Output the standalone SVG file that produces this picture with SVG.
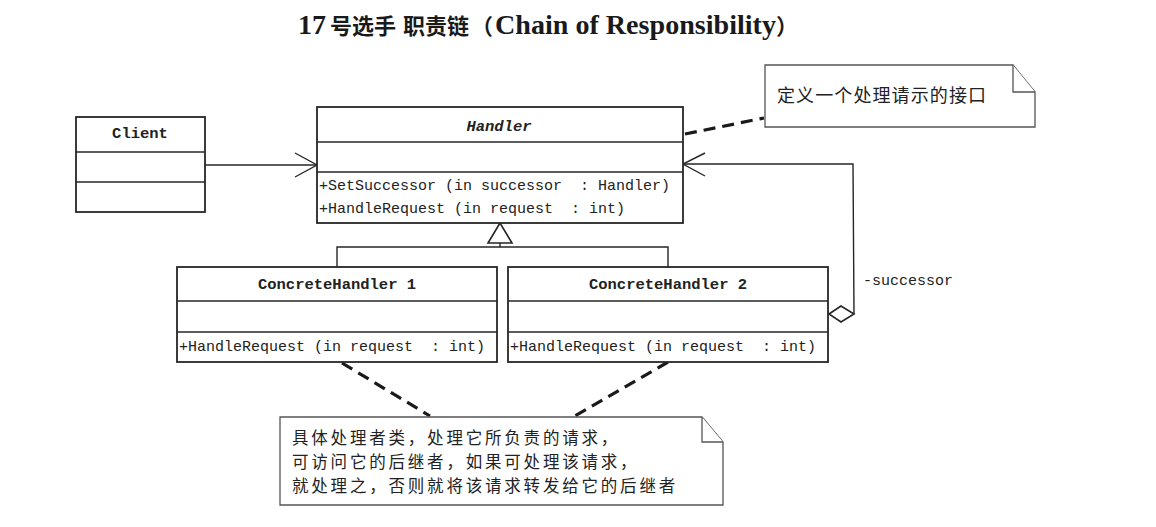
<svg xmlns="http://www.w3.org/2000/svg" width="1156" height="527" viewBox="0 0 1156 527">
  <style>
    .box { fill: #ffffff; stroke: #262626; stroke-width: 1.8; }
    .div { stroke: #262626; stroke-width: 1.6; fill: none; }
    .line { stroke: #262626; stroke-width: 1.4; fill: none; }
    .dash { stroke: #1a1a1a; stroke-width: 3.2; stroke-dasharray: 12 7; fill: none; }
    .note { fill: #ffffff; stroke: #555555; stroke-width: 1.3; }
    .mono { font-family: "Liberation Mono", "DejaVu Sans Mono", monospace; font-size: 15px; fill: #222222; white-space: pre; }
    .cls { font-family: "Liberation Mono", "DejaVu Sans Mono", monospace; font-size: 15.5px; fill: #222222; font-weight: bold; text-anchor: middle; }
    .cn { font-family: "Noto Sans CJK SC", "Noto Sans", sans-serif; font-size: 16.5px; fill: #222222; letter-spacing: 2.8px; }
    .cn1 { font-family: "Noto Sans CJK SC", "Noto Sans", sans-serif; font-size: 18px; fill: #222222; letter-spacing: 1.1px; }
    .title-cn { font-family: "Noto Sans CJK SC", sans-serif; font-size: 22px; font-weight: bold; fill: #1a1a1a; }
    .title-en { font-family: "Liberation Serif", "Noto Sans CJK SC", serif; font-size: 28px; font-weight: bold; fill: #1a1a1a; }
  </style>

  <rect x="0" y="0" width="1156" height="527" fill="#ffffff"/>

  <!-- title -->
  <g id="title">
    <text x="298" y="34" class="title-en">17</text>
    <text x="330" y="34" class="title-cn">号选手</text>
    <text x="403" y="34" class="title-cn">职责链</text>
    <text x="471" y="34" class="title-cn">（</text>
    <text x="495" y="34" class="title-en" textLength="281" lengthAdjust="spacingAndGlyphs">Chain of Responsibility</text>
    <text x="776" y="34" class="title-cn">）</text>
  </g>

  <!-- connectors -->
  <g id="connectors">
    <!-- Client -> Handler association -->
    <line class="line" x1="205" y1="165" x2="317" y2="165"/>
    <polyline class="line" points="295,153 317,165 295,177"/>
    <!-- generalization: ConcreteHandler 1/2 -> Handler -->
    <polygon points="500,223 488,243 512,243" fill="#ffffff" stroke="#262626" stroke-width="1.6"/>
    <polyline class="line" points="500,243 500,247"/>
    <polyline class="line" points="337,267 337,247 668,247 668,267"/>
    <!-- successor aggregation: ConcreteHandler 2 -> Handler -->
    <polyline class="line" points="854,314 853,164 683,164"/>
    <polyline class="line" points="705,153 683,164 705,176"/>
    <polygon points="829,314 841,306 854,314 841,322" fill="#ffffff" stroke="#262626" stroke-width="1.6"/>
    <text x="863" y="285" class="mono" font-size="14.5px">-successor</text>
    <!-- note anchors -->
    <line class="dash" x1="685" y1="134" x2="764" y2="118"/>
    <line class="dash" x1="342" y1="363" x2="430" y2="416"/>
    <line class="dash" x1="668" y1="362" x2="575" y2="416"/>
  </g>

  <!-- Client -->
  <g id="client">
    <rect class="box" x="76" y="117" width="129" height="95"/>
    <line class="div" x1="76" y1="152" x2="205" y2="152"/>
    <line class="div" x1="76" y1="182" x2="205" y2="182"/>
    <text x="140" y="138" class="cls">Client</text>
  </g>

  <!-- Handler (abstract) -->
  <g id="handler">
    <rect class="box" x="317" y="107" width="366" height="116"/>
    <line class="div" x1="317" y1="142" x2="683" y2="142"/>
    <line class="div" x1="317" y1="172" x2="683" y2="172"/>
    <text x="499" y="131" class="cls" font-style="italic">Handler</text>
    <text x="319" y="190" class="mono" xml:space="preserve">+SetSuccessor (in successor  : Handler)</text>
    <text x="319" y="213" class="mono" xml:space="preserve">+HandleRequest (in request  : int)</text>
  </g>

  <!-- ConcreteHandler 1 -->
  <g id="concrete-handler-1">
    <rect class="box" x="177" y="267" width="320" height="95"/>
    <line class="div" x1="177" y1="301" x2="497" y2="301"/>
    <line class="div" x1="177" y1="332" x2="497" y2="332"/>
    <text x="337" y="289" class="cls">ConcreteHandler 1</text>
    <text x="179" y="351" class="mono" xml:space="preserve">+HandleRequest (in request  : int)</text>
  </g>

  <!-- ConcreteHandler 2 -->
  <g id="concrete-handler-2">
    <rect class="box" x="508" y="267" width="320" height="95"/>
    <line class="div" x1="508" y1="301" x2="828" y2="301"/>
    <line class="div" x1="508" y1="332" x2="828" y2="332"/>
    <text x="668" y="289" class="cls">ConcreteHandler 2</text>
    <text x="510" y="351" class="mono" xml:space="preserve">+HandleRequest (in request  : int)</text>
  </g>

  <!-- note on Handler -->
  <g id="note-handler">
    <path class="note" d="M765,65 H1013 L1035,92 V127 H765 Z"/>
    <path class="note" d="M1013,65 V92 H1035" fill="none"/>
    <text x="777" y="102" class="cn1">定义一个处理请示的接口</text>
  </g>

  <!-- note on concrete handlers -->
  <g id="note-concrete">
    <path class="note" d="M280,417 H702 L723,442 V505 H280 Z"/>
    <path class="note" d="M702,417 V442 H723" fill="none"/>
    <text x="292" y="444" class="cn">具体处理者类，处理它所负责的请求，</text>
    <text x="292" y="468" class="cn">可访问它的后继者，如果可处理该请求，</text>
    <text x="292" y="492" class="cn">就处理之，否则就将该请求转发给它的后继者</text>
  </g>
</svg>
